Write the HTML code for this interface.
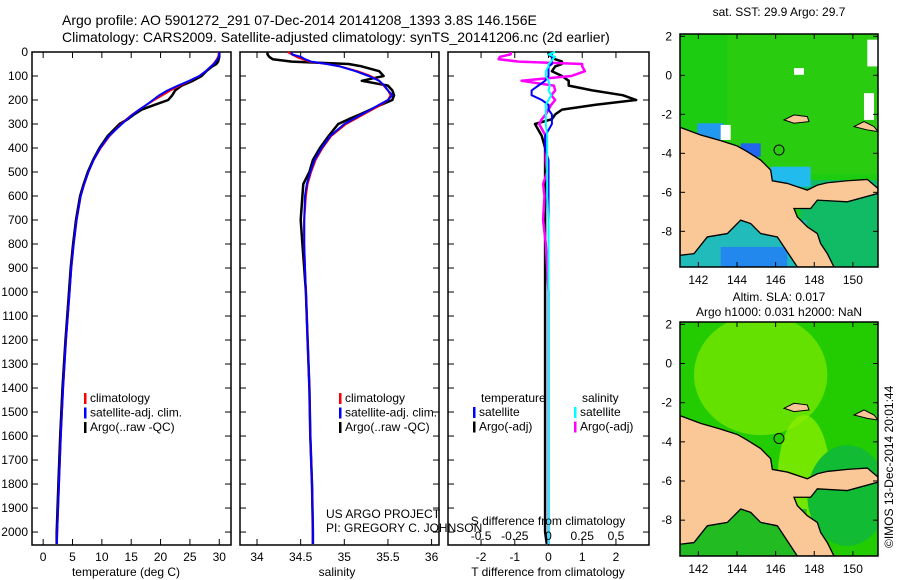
<!DOCTYPE html>
<html><head><meta charset="utf-8"><style>
body{margin:0;background:#fff}
svg{display:block;font-family:"Liberation Sans",sans-serif;font-size:12px}
</style></head><body>
<svg id="c" width="900" height="580" viewBox="0 0 900 580" xmlns="http://www.w3.org/2000/svg">
<rect width="900" height="580" fill="#fff"/>
<text x="62" y="25" style="font-size:14px">Argo profile: AO 5901272_291 07-Dec-2014 20141208_1393 3.8S 146.156E</text>
<text x="62" y="42" style="font-size:14px">Climatology: CARS2009. Satellite-adjusted climatology: synTS_20141206.nc (2d earlier)</text>
<g id="plots"></g>
<g id="maps"></g>
<text transform="translate(893,548) rotate(-90)">©IMOS 13-Dec-2014 20:01:44</text>
</svg>
<script>
const depths=[0,10,20,30,40,50,60,80,100,120,140,160,180,200,220,240,260,280,300,350,400,450,500,550,600,700,800,900,1000,1200,1400,1600,1800,2000,2050];
const tempClim=[29.9,29.9,29.8,29.6,29.3,29.0,28.6,27.7,26.6,25.0,23.3,21.7,20.3,18.9,17.6,16.4,15.2,14.2,13.3,11.3,9.8,8.6,7.7,7.0,6.4,5.7,5.2,4.8,4.5,3.9,3.4,3.0,2.7,2.4,2.35];
const tempSat=[30.0,30.0,29.9,29.7,29.4,29.1,28.6,27.7,26.6,24.9,23.0,21.2,19.8,18.7,17.6,16.4,15.3,14.3,13.4,11.2,9.7,8.6,7.7,7.0,6.4,5.7,5.2,4.8,4.5,3.9,3.4,3.0,2.7,2.4,2.35];
const tempArgo=[30.0,30.0,30.0,29.9,29.8,29.5,28.8,27.8,27.0,25.5,23.6,22.5,22.0,21.3,19.0,16.8,15.5,14.4,13.0,11.0,9.6,8.5,7.6,6.9,6.3,5.6,5.1,4.7,4.4,3.8,3.3,2.9,2.6,2.3,2.3];
const salClim=[34.35,34.4,34.45,34.52,34.6,34.8,34.95,35.15,35.3,35.4,35.45,35.5,35.53,35.5,35.42,35.32,35.22,35.12,35.02,34.85,34.75,34.67,34.62,34.58,34.56,34.54,34.54,34.55,34.56,34.58,34.6,34.61,34.63,34.64,34.64];
const salSat=[34.4,34.4,34.5,34.55,34.62,34.8,34.95,35.13,35.28,35.4,35.46,35.5,35.55,35.5,35.4,35.3,35.2,35.1,35.0,34.84,34.74,34.66,34.61,34.57,34.55,34.54,34.54,34.55,34.56,34.58,34.6,34.61,34.63,34.64,34.64];
const salArgo=[34.12,34.12,34.14,34.18,34.4,35.05,35.2,35.4,35.45,35.2,35.5,35.55,35.57,35.55,35.42,35.3,35.18,35.05,34.93,34.82,34.72,34.64,34.6,34.53,34.52,34.5,34.52,34.54,34.56,34.58,34.6,34.61,34.63,34.64,34.64];
const depthTicks=[0,100,200,300,400,500,600,700,800,900,1000,1100,1200,1300,1400,1500,1600,1700,1800,1900,2000];
const tempTicks=[0,5,10,15,20,25,30];
const salTicks=[34,34.5,35,35.5,36];
const tdiffTicks=[-2,-1,0,1,2];
const sdiffTicks=[-0.5,-0.25,0,0.25,0.5];
const lonTicks=[142,144,146,148,150];
const latTicks=[2,0,-2,-4,-6,-8];

const NS="http://www.w3.org/2000/svg";
const plots=document.getElementById('plots');
function mk(tag,attrs,parent){const e=document.createElementNS(NS,tag);for(const k in attrs)e.setAttribute(k,attrs[k]);(parent||plots).appendChild(e);return e;}
const Y0=52,Y1=545;
function yD(d){return Y0+(d/2054)*(Y1-Y0);}
function panel(x0,x1,lo,hi,name){
  const g=mk('g',{});
  
  
  const r=mk('rect',{x:x0,y:Y0,width:x1-x0,height:Y1-Y0,fill:'none',stroke:'#000','stroke-width':1.5},g);
  
  
  for(const d of depthTicks){const y=yD(d);
    mk('line',{x1:x0,x2:x0+6,y1:y,y2:y,stroke:'#000'},g);
    mk('line',{x1:x1-6,x2:x1,y1:y,y2:y,stroke:'#000'},g);}
  return {g,x:v=>x0+(v-lo)/(hi-lo)*(x1-x0),x0,x1};
}
function line(p,vals,color,w,name,fx){
  let s='';
  vals.forEach((v,i)=>{s+=(i?'L':'M')+p.x(fx?fx(v,i):v).toFixed(1)+','+yD(depths[i]).toFixed(1);});
  const e=mk('path',{d:s,fill:'none',stroke:color,'stroke-width':w,'stroke-linejoin':'round'},p.g);
  
  
}
function txt(x,y,t,name,anchor,parent){const e=mk('text',{x:x,y:y,'text-anchor':anchor||'start'},parent);e.textContent=t;
  
  
  return e;}
function legend(p,x,y,items){
  items.forEach((it,i)=>{mk('rect',{x:x,y:y+i*14.5-9,width:2.5,height:11,fill:it[1]},p.g);
    txt(x+6,y+i*14.5,it[0],'legend-entry',null,p.g);});
}
depthTicks.forEach(d=>{txt(28,yD(d)+4,String(d),'y-tick-label','end');});

const p1=panel(32,231,-1.9,32,'temperature-panel');
tempTicks.forEach(t=>{const x=p1.x(t);mk('line',{x1:x,x2:x,y1:Y0,y2:Y0+6,stroke:'#000'},p1.g);mk('line',{x1:x,x2:x,y1:Y1-6,y2:Y1,stroke:'#000'},p1.g);txt(x,561,String(t),'x-tick-label','middle');});
txt(126,576,'temperature (deg C)','x-axis-title','middle');
line(p1,tempArgo,'#000',2.5,'argo-temperature-line');
line(p1,tempClim,'#f00',2,'climatology-temperature-line');
line(p1,tempSat,'#00f',2,'satellite-temperature-line');
legend(p1,84,402,[['climatology','#f00'],['satellite-adj. clim.','#00f'],['Argo(..raw -QC)','#000']]);

const p2=panel(240,439,33.805,36.085,'salinity-panel');
salTicks.forEach(t=>{const x=p2.x(t);mk('line',{x1:x,x2:x,y1:Y0,y2:Y0+6,stroke:'#000'},p2.g);mk('line',{x1:x,x2:x,y1:Y1-6,y2:Y1,stroke:'#000'},p2.g);txt(x,561,String(t),'x-tick-label','middle');});
txt(337,576,'salinity','x-axis-title','middle');
line(p2,salArgo,'#000',2.5,'argo-salinity-line');
line(p2,salClim,'#f00',2,'climatology-salinity-line');
line(p2,salSat,'#00f',2,'satellite-salinity-line');
legend(p2,339,402,[['climatology','#f00'],['satellite-adj. clim.','#00f'],['Argo(..raw -QC)','#000']]);
txt(326,518,'US ARGO PROJECT','project-credit');
txt(326,532,'PI: GREGORY C. JOHNSON','pi-credit');

const p3=panel(448,649,-2.98,2.98,'difference-panel');
tdiffTicks.forEach(t=>{const x=p3.x(t);mk('line',{x1:x,x2:x,y1:Y0,y2:Y0+6,stroke:'#000'},p3.g);mk('line',{x1:x,x2:x,y1:Y1-6,y2:Y1,stroke:'#000'},p3.g);txt(x,561,String(t),'t-diff-tick-label','middle');});
sdiffTicks.forEach(t=>{txt(p3.x(t*4),540,String(t),'s-diff-tick-label','middle');});
txt(548,525,'S difference from climatology','s-diff-axis-title','middle');
txt(548,576,'T difference from climatology','t-diff-axis-title','middle');
line(p3,tempArgo,'#000',2.5,'argo-temp-diff-line',(v,i)=>v-tempSat[i]);
line(p3,salArgo,'#f0f',2.5,'argo-sal-diff-line',(v,i)=>(v-salSat[i])*4);
line(p3,tempSat,'#00f',2,'satellite-temp-diff-line',(v,i)=>v-tempClim[i]);
line(p3,salSat,'#0ff',2,'satellite-sal-diff-line',(v,i)=>(v-salClim[i])*4);
txt(481,402,'temperature','legend-heading',null,p3.g);
txt(582,402,'salinity','legend-heading',null,p3.g);
legend(p3,473,416,[['satellite','#00f'],['Argo(-adj)','#000']]);
legend(p3,574,416,[['satellite','#0ff'],['Argo(-adj)','#f0f']]);

const maps=document.getElementById('maps');
const land="58,322 120,345 180,362 230,378 260,395 300,420 330,450 335,482 380,490 440,510 470,495 500,488 560,482 620,478 652,505 652,520 560,545 470,540 450,565 400,565 410,590 440,620 470,640 480,670 500,700 520,740 410,740 350,650 300,640 270,610 240,600 200,640 140,650 100,700 58,705";
function map(x0,y0,w,h,name,kind){
  const g=mk('g',{},maps);
  
  
  const s=mk('svg',{x:x0,y:y0,width:w,height:h,viewBox:'58 43 594 697',preserveAspectRatio:'none'},g);
  if(kind==='sst'){
    mk('rect',{x:58,y:43,width:594,height:697,fill:'#1ccc10'},s);
    mk('rect',{x:200,y:43,width:452,height:420,fill:'#33cc11',opacity:0.6},s);
    mk('rect',{x:420,y:480,width:232,height:260,fill:'#11bb66'},s);
    mk('rect',{x:58,y:600,width:380,height:140,fill:'#22bbbb'},s);
    mk('rect',{x:110,y:310,width:80,height:50,fill:'#2299ee'},s);
    mk('rect',{x:240,y:370,width:60,height:40,fill:'#2266ee'},s);
    mk('rect',{x:330,y:440,width:120,height:60,fill:'#22bbee'},s);
    mk('rect',{x:180,y:680,width:200,height:60,fill:'#2288ee'},s);
    mk('rect',{x:400,y:145,width:30,height:20,fill:'#fff'},s);
    mk('rect',{x:620,y:60,width:32,height:80,fill:'#fff'},s);
    mk('rect',{x:610,y:220,width:30,height:80,fill:'#fff'},s);
    mk('rect',{x:180,y:315,width:30,height:45,fill:'#fff'},s);
  } else {
    mk('rect',{x:58,y:43,width:594,height:697,fill:'#22cc00'},s);
    mk('ellipse',{cx:300,cy:200,rx:200,ry:180,fill:'#77e600',opacity:0.8},s);
    mk('ellipse',{cx:430,cy:520,rx:80,ry:200,fill:'#88ee00',opacity:0.8},s);
    mk('ellipse',{cx:560,cy:560,rx:120,ry:150,fill:'#11bb33'},s);
    mk('rect',{x:58,y:600,width:380,height:140,fill:'#22bb22'},s);
  }
  mk('polygon',{points:land,fill:'#fac896',stroke:'#000','stroke-width':4},s);
  mk('polygon',{points:"370,300 400,285 440,290 445,305 400,310",fill:'#fac896',stroke:'#000','stroke-width':3},s);
  mk('polygon',{points:"580,320 610,305 640,320 652,335 620,330",fill:'#fac896',stroke:'#000','stroke-width':3},s);
  const c=mk('circle',{cx:355,cy:390,r:15,fill:'none',stroke:'#000','stroke-width':3},s);
  
  
  mk('rect',{x:x0,y:y0,width:w,height:h,fill:'none',stroke:'#000','stroke-width':1.5},g);
  const lx=v=>x0+(v-141.05)/(151.3-141.05)*w, ly=v=>y0+(2.12-v)/(2.12+9.83)*h;
  lonTicks.forEach(t=>{const x=lx(t);mk('line',{x1:x,x2:x,y1:y0,y2:y0+5,stroke:'#000'},g);mk('line',{x1:x,x2:x,y1:y0+h-5,y2:y0+h,stroke:'#000'},g);txt(x,y0+h+17,String(t),'lon-tick-label','middle',g);});
  latTicks.forEach(t=>{const y=ly(t);mk('line',{x1:x0,x2:x0+5,y1:y,y2:y,stroke:'#000'},g);mk('line',{x1:x0+w-5,x2:x0+w,y1:y,y2:y,stroke:'#000'},g);txt(x0-8,y+4,String(t),'lat-tick-label','end',g);});
}
map(680,34,198,233,'sst-map','sst');
map(680,322,198,234,'sla-map','sla');
txt(779,16,'sat. SST: 29.9 Argo: 29.7','sst-map-title','middle',maps);
txt(779,301,'Altim. SLA: 0.017','sla-map-title','middle',maps);
txt(779,316,'Argo h1000: 0.031 h2000: NaN','sla-map-subtitle','middle',maps);
</script>
</body></html>
